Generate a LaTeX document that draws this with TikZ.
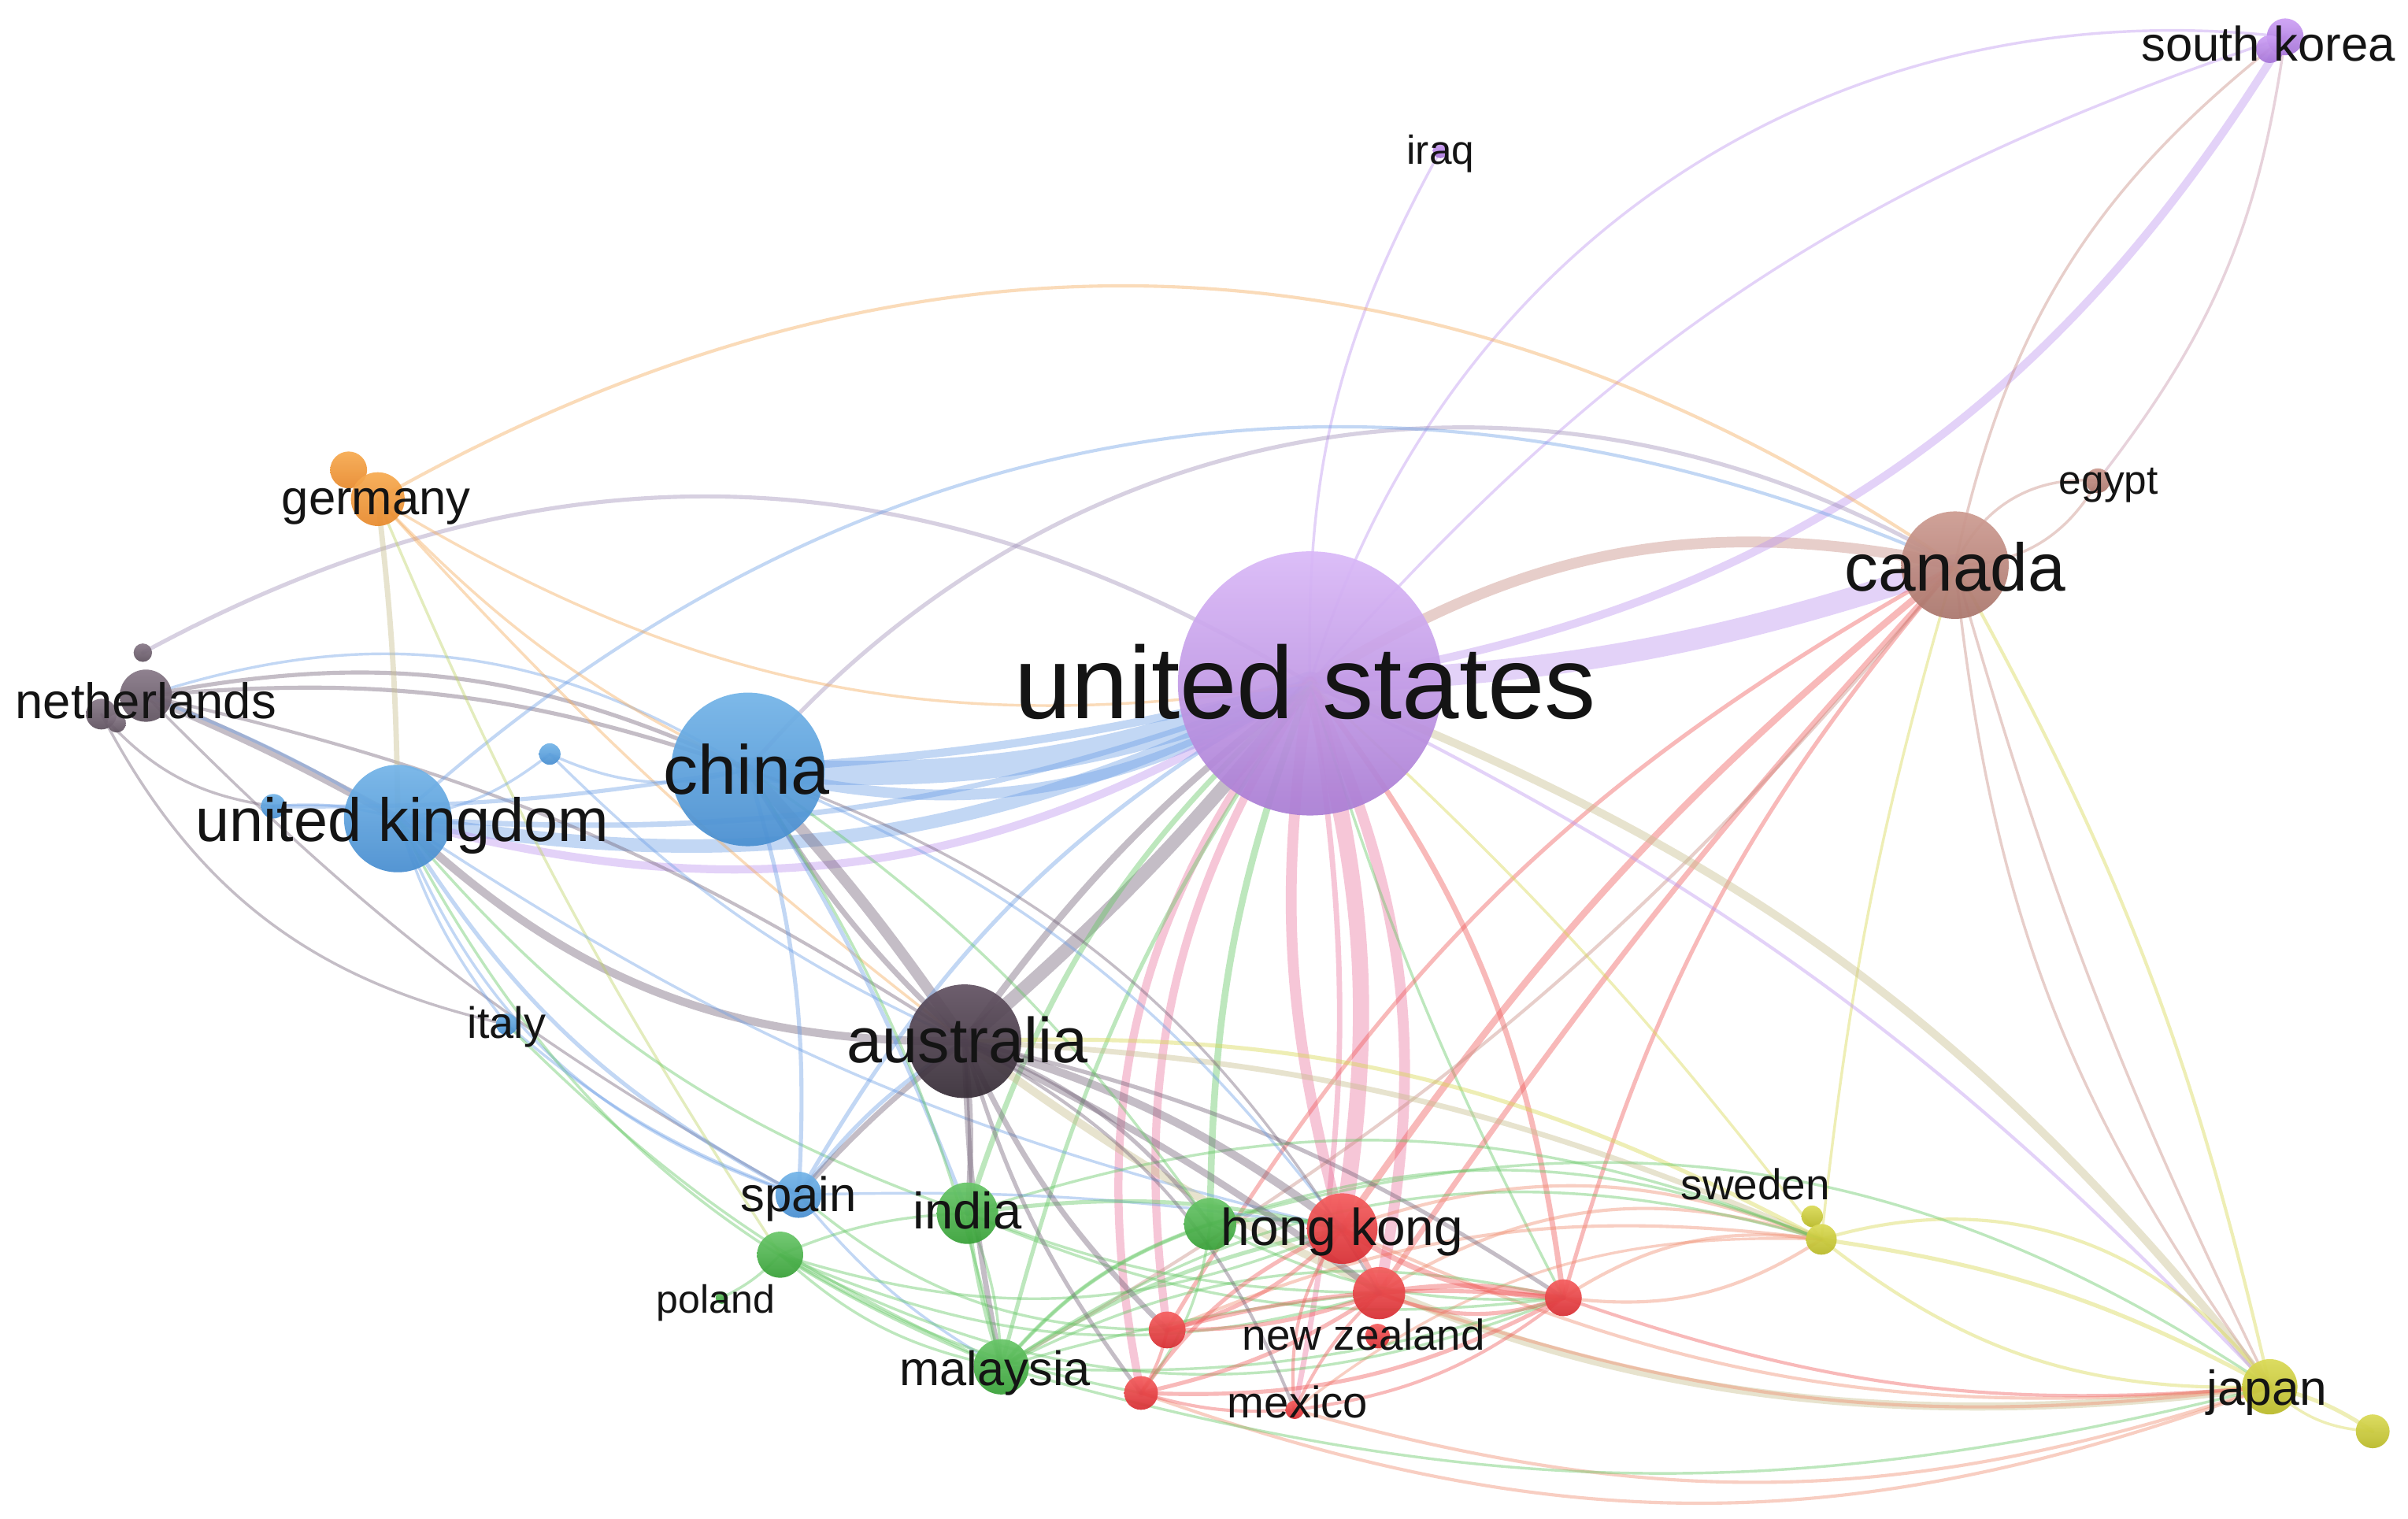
\documentclass[tikz,border=0pt]{standalone}
\usepackage{fontspec}
\setmainfont{Liberation Sans}
\pgfdeclarelayer{bgzero}
\pgfdeclarelayer{edges}
\pgfsetlayers{bgzero,edges,main}
\newcommand\fsz[1]{\fontsize{#1}{#1}\selectfont}
\newcommand\cnx[5]{\draw[lnk=#1pt,draw=#2] (#3.center) to[#4] (#5.center);}
\definecolor{eblue}{RGB}{110,160,230}
\definecolor{epur}{RGB}{190,150,240}
\definecolor{ebrown}{RGB}{200,140,130}
\definecolor{egray}{RGB}{115,100,120}
\definecolor{egrayp}{RGB}{160,145,185}
\definecolor{epink}{RGB}{235,120,160}
\definecolor{ered}{RGB}{240,90,90}
\definecolor{egreen}{RGB}{100,200,100}
\definecolor{eyellow}{RGB}{215,215,80}
\definecolor{etan}{RGB}{200,190,140}
\definecolor{eorange}{RGB}{245,170,90}
\definecolor{eorangeb}{RGB}{240,140,110}
\definecolor{eyg}{RGB}{190,210,100}
\definecolor{epurb}{RGB}{200,150,170}
\begin{document}
\begin{tikzpicture}[x=0.02cm,y=0.02cm,
  lnk/.style={line width=#1, opacity=0.42, line cap=round},
  nd/.style={circle, inner sep=0pt, minimum size=#1, draw=none, fill opacity=0.93},
  cus/.style={top color={rgb,255:red,218;green,185;blue,248}, bottom color={rgb,255:red,170;green,125;blue,212}},
  cca/.style={top color={rgb,255:red,205;green,155;blue,145}, bottom color={rgb,255:red,170;green,118;blue,108}},
  cbl/.style={top color={rgb,255:red,115;green,180;blue,232}, bottom color={rgb,255:red,72;green,142;blue,208}},
  cau/.style={top color={rgb,255:red,98;green,82;blue,98}, bottom color={rgb,255:red,55;green,45;blue,55}},
  cnl/.style={top color={rgb,255:red,135;green,120;blue,135}, bottom color={rgb,255:red,95;green,82;blue,95}},
  cde/.style={top color={rgb,255:red,247;green,170;blue,80}, bottom color={rgb,255:red,232;green,138;blue,45}},
  ckr/.style={top color={rgb,255:red,205;green,160;blue,245}, bottom color={rgb,255:red,165;green,115;blue,215}},
  cgr/.style={top color={rgb,255:red,105;green,198;blue,105}, bottom color={rgb,255:red,55;green,160;blue,55}},
  crd/.style={top color={rgb,255:red,245;green,95;blue,95}, bottom color={rgb,255:red,215;green,45;blue,50}},
  cye/.style={top color={rgb,255:red,218;green,218;blue,85}, bottom color={rgb,255:red,185;green,185;blue,40}},
  lbl/.style={anchor=base, inner sep=0pt, text={rgb,255:red,20;green,20;blue,20}}]
\begin{pgfonlayer}{bgzero}
\fill[white] (0,-989) rectangle (1568,0);
\end{pgfonlayer}
\useasboundingbox (0,-989) rectangle (1568,0);
% ---------- nodes ----------
\node[nd=3.44cm,cus] (us) at (853,-445) {};
\node[nd=1.40cm,cca] (ca) at (1273,-368) {};
\node[nd=2.00cm,cbl] (cn) at (487,-501) {};
\node[nd=1.40cm,cbl] (uk) at (259,-533) {};
\node[nd=1.48cm,cau] (au) at (628,-678) {};
\node[nd=0.68cm,cnl] (nl) at (95,-453) {};
\node[nd=0.24cm,cnl] (nlb) at (93,-425) {};
\node[nd=0.40cm,cnl] (nlc) at (66,-465) {};
\node[nd=0.24cm,cnl] (nld) at (76,-471) {};
\node[nd=0.48cm,cde] (deb) at (227,-306) {};
\node[nd=0.70cm,cde] (de) at (246,-325) {};
\node[nd=0.48cm,ckr] (kr) at (1488,-24) {};
\node[nd=0.36cm,ckr] (krb) at (1478,-32) {};
\node[nd=0.20cm,ckr] (iq) at (938,-98) {};
\node[nd=0.32cm,cca] (eg) at (1366,-313) {};
\node[nd=0.28cm,cbl] (it) at (330,-667) {};
\node[nd=0.28cm,cbl] (bla) at (358,-491) {};
\node[nd=0.32cm,cbl] (blb) at (178,-525) {};
\node[nd=0.60cm,cbl] (es) at (520,-778) {};
\node[nd=0.60cm,cgr] (gra) at (508,-817) {};
\node[nd=0.16cm,cgr] (pl) at (470,-845) {};
\node[nd=0.80cm,cgr] (in) at (630,-790) {};
\node[nd=0.72cm,cgr] (my) at (652,-890) {};
\node[nd=0.68cm,cgr] (hkg) at (788,-797) {};
\node[nd=0.92cm,crd] (hk) at (874,-800) {};
\node[nd=0.68cm,crd] (nz) at (898,-842) {};
\node[nd=0.32cm,crd] (nzb) at (897,-870) {};
\node[nd=0.24cm,crd] (mx) at (843,-918) {};
\node[nd=0.48cm,crd] (rda) at (760,-866) {};
\node[nd=0.44cm,crd] (rdb) at (743,-907) {};
\node[nd=0.48cm,crd] (rdc) at (1018,-845) {};
\node[nd=0.28cm,cye] (seb) at (1180,-792) {};
\node[nd=0.40cm,cye] (se) at (1186,-807) {};
\node[nd=0.72cm,cye] (jp) at (1478,-903) {};
\node[nd=0.44cm,cye] (jpb) at (1545,-932) {};
% ---------- edges ----------
\begin{pgfonlayer}{edges}
% china / uk -> us
\cnx{9}{eblue}{cn}{bend right=12}{us}
\cnx{4}{eblue}{cn}{bend right=22}{us}
\cnx{3}{eblue}{cn}{bend right=5}{us}
\cnx{5}{eblue}{uk}{bend right=18}{us}
\cnx{3}{epur}{uk}{bend right=24}{us}
\cnx{2}{eblue}{uk}{bend right=12}{us}
% us - canada, korea
\cnx{4}{ebrown}{us}{bend left=22}{ca}
\cnx{8}{epur}{us}{bend right=8}{ca}
\cnx{3}{epur}{us}{bend right=25}{kr}
\cnx{1}{epur}{us}{bend left=15}{kr}
\cnx{1}{epur}{us}{bend left=40}{kr}
\cnx{1}{epur}{iq}{bend right=15}{us}
% us - australia
\cnx{5}{egray}{us}{bend left=5}{au}
\cnx{2.5}{egray}{us}{bend right=8}{au}
% us - south cluster
\cnx{6}{epink}{us}{bend left=12}{hk}
\cnx{4}{epink}{us}{bend right=12}{hk}
\cnx{4}{epink}{us}{bend left=18}{nz}
\cnx{3}{epink}{us}{bend right=20}{rda}
\cnx{3}{epink}{us}{bend right=25}{rdb}
\cnx{2}{epink}{us}{bend left=10}{mx}
\cnx{2.5}{egreen}{us}{bend right=10}{hkg}
\cnx{2}{egreen}{us}{bend right=15}{in}
\cnx{1.5}{egreen}{us}{bend right=10}{my}
\cnx{2}{ered}{us}{bend left=15}{rdc}
\cnx{1}{egreen}{us}{bend right=5}{rdc}
% canada
\cnx{2.5}{ered}{ca}{bend right=8}{hk}
\cnx{2}{ered}{ca}{bend right=4}{nz}
\cnx{1.5}{ered}{ca}{bend right=12}{rdc}
\cnx{1.5}{ered}{ca}{bend right=15}{rda}
\cnx{1.2}{ebrown}{ca}{bend left=10}{my}
\cnx{1}{ebrown}{ca}{bend left=20}{kr}
\cnx{1}{epurb}{eg}{bend right=15}{kr}
\cnx{1}{ebrown}{ca}{bend left=35}{eg}
\cnx{1}{ebrown}{ca}{bend right=30}{eg}
\cnx{1}{ebrown}{ca}{bend right=15}{jp}
\cnx{1}{ebrown}{ca}{bend right=5}{jp}
\cnx{1.2}{eyellow}{ca}{bend left=8}{jp}
\cnx{1}{eyellow}{ca}{bend right=5}{se}
\cnx{1.5}{egrayp}{cn}{bend left=40}{ca}
% china / netherlands / germany / uk
\cnx{4}{egray}{cn}{bend left=4}{au}
\cnx{2}{egray}{cn}{bend right=8}{au}
\cnx{3}{egray}{nl}{bend left=3}{uk}
\cnx{3}{egray}{uk}{bend right=22}{au}
\cnx{1.5}{egray}{nl}{bend left=18}{cn}
\cnx{1.5}{egray}{nl}{bend left=12}{cn}
\cnx{1.2}{egray}{nl}{bend left=10}{au}
\cnx{1}{egray}{nl}{bend right=8}{es}
\cnx{1}{egray}{nlc}{bend right=20}{blb}
\cnx{1}{egray}{nlc}{bend right=25}{it}
\cnx{1}{eblue}{nl}{bend left=25}{cn}
\cnx{1.2}{eblue}{nl}{bend left=5}{uk}
\cnx{1.5}{egrayp}{nlb}{bend left=30}{us}
\cnx{1.2}{eorange}{de}{bend left=32}{ca}
\cnx{1.2}{eblue}{uk}{bend left=33}{ca}
\cnx{2}{etan}{de}{bend left=3}{uk}
\cnx{1}{eorange}{de}{bend right=20}{us}
\cnx{1}{eorange}{de}{bend right=5}{au}
\cnx{1}{eorange}{de}{bend right=10}{cn}
\cnx{1}{eyg}{de}{bend right=5}{gra}
\cnx{1}{eblue}{bla}{bend right=20}{cn}
\cnx{1}{eblue}{bla}{bend left=15}{uk}
\cnx{1}{eblue}{bla}{bend right=10}{au}
\cnx{1}{eblue}{blb}{bend left=10}{uk}
\cnx{1.5}{eblue}{blb}{bend right=5}{cn}
\cnx{1.5}{eblue}{uk}{bend right=15}{es}
\cnx{1}{eblue}{uk}{bend right=25}{es}
\cnx{1}{eblue}{uk}{bend right=10}{it}
\cnx{1}{egreen}{uk}{bend right=20}{my}
\cnx{1}{egreen}{uk}{bend right=15}{in}
\cnx{1}{eblue}{uk}{bend right=10}{hk}
\cnx{1}{eblue}{it}{bend right=10}{es}
\cnx{1}{egreen}{it}{bend right=10}{my}
% us - japan, sweden
\cnx{3}{etan}{us}{bend left=15}{jp}
\cnx{1.2}{epur}{us}{bend left=10}{jp}
\cnx{1}{eyellow}{us}{bend left=5}{se}
\cnx{2}{etan}{au}{bend left=10}{se}
\cnx{1.5}{eyellow}{au}{bend left=15}{se}
\cnx{3}{etan}{au}{bend right=22}{jp}
\cnx{1.5}{eyellow}{se}{bend left=10}{jp}
\cnx{1.2}{eyellow}{se}{bend left=35}{jp}
\cnx{1.2}{eyellow}{se}{bend right=20}{jp}
\cnx{1.5}{eyellow}{jp}{bend left=10}{jpb}
\cnx{1}{eyellow}{jp}{bend right=20}{jpb}
% south cluster -> sweden / japan
\cnx{1.2}{eorangeb}{hk}{bend left=20}{se}
\cnx{1.2}{eorangeb}{nz}{bend left=25}{se}
\cnx{1.2}{eorangeb}{rda}{bend left=15}{se}
\cnx{1}{egreen}{hkg}{bend left=20}{se}
\cnx{1}{egreen}{my}{bend left=25}{se}
\cnx{1.2}{eorangeb}{rdc}{bend left=20}{se}
\cnx{1.2}{eorangeb}{rdc}{bend right=20}{se}
\cnx{1}{eorangeb}{mx}{bend left=20}{se}
\cnx{1}{egreen}{in}{bend left=20}{se}
\cnx{1.2}{eorangeb}{rdb}{bend right=20}{jp}
\cnx{1.2}{eorangeb}{mx}{bend right=17}{jp}
\cnx{1.2}{eorangeb}{nz}{bend right=13}{jp}
\cnx{1.2}{eorangeb}{hk}{bend right=15}{jp}
\cnx{1.2}{ered}{rdc}{bend right=12}{jp}
\cnx{1}{egreen}{my}{bend right=15}{jp}
\cnx{1}{egreen}{hkg}{bend left=25}{jp}
% south cluster internal
\cnx{1.5}{eblue}{es}{bend left=10}{au}
\cnx{1.5}{eblue}{es}{bend left=15}{us}
\cnx{1}{eblue}{es}{bend left=5}{hk}
\cnx{1}{eblue}{es}{bend right=10}{my}
\cnx{1}{egreen}{gra}{bend left=10}{in}
\cnx{1}{egreen}{gra}{bend right=15}{my}
\cnx{1}{egreen}{gra}{bend right=20}{hk}
\cnx{1}{egreen}{gra}{bend right=20}{nz}
\cnx{1}{egreen}{gra}{bend right=25}{rdc}
\cnx{1}{egreen}{gra}{bend right=10}{rdb}
\cnx{1}{egreen}{gra}{bend left=10}{pl}
\cnx{1}{egreen}{es}{bend right=20}{rda}
\cnx{1.5}{egreen}{in}{bend right=5}{my}
\cnx{1}{egreen}{in}{bend left=10}{my}
\cnx{1.5}{egreen}{in}{bend left=10}{hk}
\cnx{1}{egreen}{in}{bend right=10}{nz}
\cnx{1}{egreen}{in}{bend right=15}{rdc}
\cnx{1.5}{egreen}{my}{bend left=15}{hkg}
\cnx{1.5}{egreen}{my}{bend left=10}{hk}
\cnx{1}{egreen}{my}{bend left=5}{nz}
\cnx{1}{egreen}{my}{bend right=10}{rdc}
\cnx{1}{egreen}{my}{bend left=20}{rdc}
\cnx{1.5}{egreen}{hkg}{bend left=10}{hk}
\cnx{1}{egreen}{hkg}{bend right=15}{rdc}
\cnx{1}{egreen}{hkg}{bend left=15}{rdb}
\cnx{1}{egreen}{hkg}{bend right=15}{my}
\cnx{2}{ered}{hk}{bend left=10}{nz}
\cnx{2}{ered}{hk}{bend right=15}{rdc}
\cnx{2}{ered}{nz}{bend left=10}{rdc}
\cnx{1.5}{ered}{nz}{bend right=20}{rdc}
\cnx{1.5}{ered}{rda}{bend left=10}{rdc}
\cnx{1.5}{ered}{rda}{bend right=15}{hk}
\cnx{1.5}{ered}{rda}{bend right=10}{nz}
\cnx{1.5}{ered}{rdb}{bend right=10}{nz}
\cnx{1.5}{ered}{rdb}{bend left=15}{hk}
\cnx{1.5}{ered}{rdb}{bend right=15}{rdc}
\cnx{1.2}{ered}{mx}{bend left=10}{nz}
\cnx{1.2}{ered}{mx}{bend right=15}{rdc}
\cnx{1.2}{ered}{mx}{bend left=20}{hk}
\cnx{1.2}{ered}{rdb}{bend right=10}{mx}
\cnx{1.2}{ered}{rda}{bend left=10}{rdb}
% australia down
\cnx{3}{egray}{au}{bend left=10}{hk}
\cnx{2.5}{egray}{au}{bend left=5}{nz}
\cnx{2}{egray}{au}{bend right=10}{rda}
\cnx{2}{egray}{au}{bend right=5}{my}
\cnx{2}{egray}{au}{bend left=5}{in}
\cnx{2}{egray}{au}{bend right=5}{es}
\cnx{1.5}{egray}{au}{bend left=10}{rdc}
\cnx{1.5}{egray}{au}{bend left=15}{hkg}
\cnx{1.5}{egray}{au}{bend right=10}{rdb}
\cnx{1.2}{egray}{au}{bend left=20}{mx}
% china down
\cnx{1.5}{eblue}{cn}{bend left=5}{in}
\cnx{1}{egreen}{cn}{bend left=10}{my}
\cnx{1}{eblue}{cn}{bend left=15}{hk}
\cnx{1.5}{eblue}{cn}{bend left=10}{es}
\cnx{1}{egreen}{cn}{bend left=10}{hkg}
\cnx{1}{egray}{cn}{bend left=20}{nz}
\end{pgfonlayer}
% ---------- labels ----------
\node[lbl,font=\fsz{38}] (usL) at (850,-468) {united states};
\node[lbl,font=\fsz{25}] (caL) at (1273,-385) {canada};
\node[lbl,font=\fsz{25.7}] (cnL) at (486,-517) {china};
\node[lbl,font=\fsz{22.6}] (ukL) at (262,-548) {united kingdom};
\node[lbl,font=\fsz{23.6}] (auL) at (630,-692) {australia};
\node[lbl,font=\fsz{18.5}] (nlL) at (95,-468) {netherlands};
\node[lbl,font=\fsz{18}] (deL) at (245,-335) {germany};
\node[lbl,font=\fsz{18}] (krL) at (1477,-40) {south korea};
\node[lbl,font=\fsz{15}] (iqL) at (938,-107) {iraq};
\node[lbl,font=\fsz{15}] (egL) at (1373,-322) {egypt};
\node[lbl,font=\fsz{16.3}] (itL) at (330,-676) {italy};
\node[lbl,font=\fsz{18}] (esL) at (520,-789) {spain};
\node[lbl,font=\fsz{19}] (inL) at (630,-800) {india};
\node[lbl,font=\fsz{14.6}] (plL) at (466,-855) {poland};
\node[lbl,font=\fsz{19.2}] (hkL) at (874,-811) {hong kong};
\node[lbl,font=\fsz{16}] (nzL) at (888,-879) {new zealand};
\node[lbl,font=\fsz{17.9}] (myL) at (648,-902) {malaysia};
\node[lbl,font=\fsz{16.4}] (mxL) at (845,-923) {mexico};
\node[lbl,font=\fsz{16}] (seL) at (1143,-781) {sweden};
\node[lbl,font=\fsz{18.2}] (jpL) at (1476,-915) {japan};
\end{tikzpicture}
\end{document}
